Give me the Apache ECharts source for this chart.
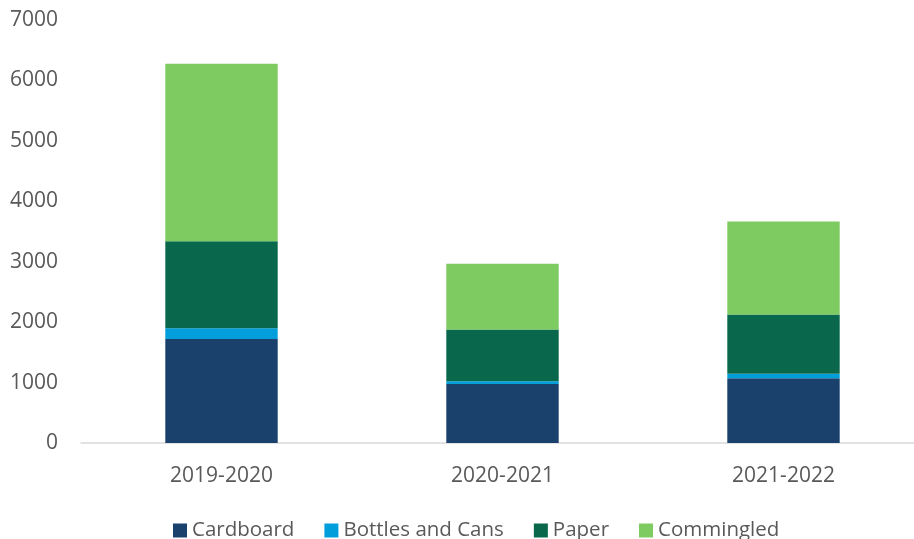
<!DOCTYPE html>
<html>
<head>
<meta charset="utf-8">
<script src="https://cdn.jsdelivr.net/npm/echarts@6/dist/echarts.min.js"></script>
<style>
  html, body { margin: 0; padding: 0; background: #ffffff; }
  #chart { width: 914px; height: 539px; }
</style>
</head>
<body>
<div id="chart"></div>
<script>
// Recycled material by academic year (stacked)
const years = ['2019-2020', '2020-2021', '2021-2022'];
const cardboard = [1720, 975, 1070];
const bottlesAndCans = [180, 45, 75];
const paper = [1440, 860, 980];
const commingled = [2935, 1085, 1540];
const yTicks = [0, 1000, 2000, 3000, 4000, 5000, 6000, 7000];

const textColor = '#595959';
const fontFamily = '"Open Sans", "Noto Sans", sans-serif';

function stackSeries(name, data, color) {
  return {
    name: name,
    type: 'bar',
    stack: 'total',
    data: data,
    barWidth: '40%',
    itemStyle: { color: color },
    emphasis: { disabled: true }
  };
}

const chart = echarts.init(document.getElementById('chart'), null, { renderer: 'canvas' });
chart.setOption({
  animation: false,
  textStyle: { fontFamily: fontFamily },
  grid: {
    left: 81,
    top: 20,
    width: 843,
    height: 423,
    containLabel: false,
    outerBoundsMode: 'none'
  },
  legend: {
    top: 515,
    left: 168,
    itemWidth: 14,
    itemHeight: 14,
    itemGap: 30,
    icon: 'rect',
    textStyle: { color: textColor, fontSize: 20.5, fontFamily: fontFamily },
    data: ['Cardboard', 'Bottles and Cans', 'Paper', 'Commingled']
  },
  xAxis: {
    type: 'category',
    data: years,
    axisLine: { show: true, lineStyle: { color: '#D9D9D9', width: 1.5 } },
    axisTick: { show: false },
    axisLabel: { color: textColor, fontSize: 21, margin: 23 }
  },
  yAxis: {
    type: 'value',
    min: yTicks[0],
    max: yTicks[yTicks.length - 1],
    interval: 1000,
    axisLine: { show: false },
    axisTick: { show: false },
    splitLine: { show: false },
    axisLabel: {
      color: textColor,
      fontSize: 21,
      margin: 23,
      formatter: function (v) { return String(v); }
    }
  },
  series: [
    stackSeries('Cardboard', cardboard, '#1A406C'),
    stackSeries('Bottles and Cans', bottlesAndCans, '#009FDB'),
    stackSeries('Paper', paper, '#09684B'),
    stackSeries('Commingled', commingled, '#7ECB62')
  ]
});
</script>
</body>
</html>
